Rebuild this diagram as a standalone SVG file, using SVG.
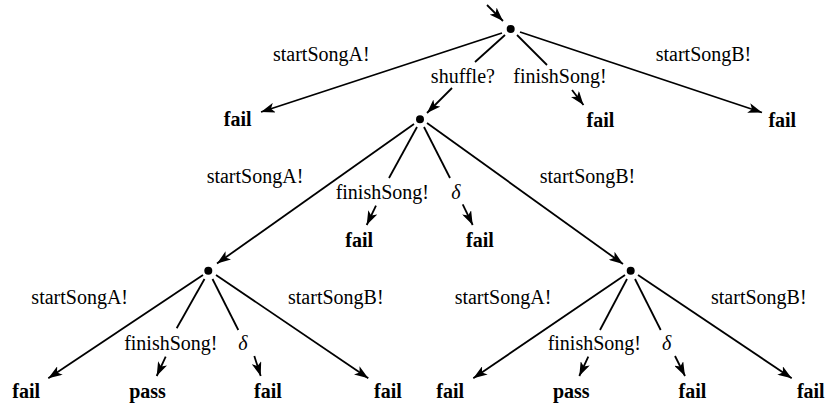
<svg xmlns="http://www.w3.org/2000/svg" width="828" height="407" viewBox="0 0 828 407" font-family="Liberation Serif, Times New Roman, DejaVu Serif, Noto Serif, serif">
  <style>
    .edge { stroke: #000; stroke-width: 1.8; fill: none; }
    .arr { marker-end: url(#head); }
    text { font-size: 20px; fill: #000; text-anchor: middle; }
    .delta { font-style: italic; }
    .verdict { font-weight: bold; }
    .state { fill: #000; }
  </style>
  <defs>
    <marker id="head" viewBox="0 0 14 10" refX="14" refY="5" markerWidth="14" markerHeight="10" markerUnits="userSpaceOnUse" orient="auto">
      <path d="M0,0 L14,5 L0,10 L3.5,5 Z" fill="#000"/>
    </marker>
  </defs>
  <rect width="828" height="407" fill="#fff"/>

  <!-- transitions -->
  <g id="connectors">
    <line class="edge arr" x1="487" y1="5" x2="503" y2="21"/>

    <!-- from s0 -->
    <line class="edge arr" x1="502" y1="33" x2="261" y2="112"/>
    <line class="edge" x1="505" y1="35" x2="475" y2="62"/>
    <line class="edge arr" x1="452" y1="88" x2="427" y2="113"/>
    <line class="edge" x1="517" y1="35" x2="547" y2="65"/>
    <line class="edge arr" x1="572" y1="90" x2="583.5" y2="105"/>
    <line class="edge arr" x1="520" y1="32" x2="762" y2="112.5"/>

    <!-- from s1 -->
    <line class="edge arr" x1="414" y1="124" x2="217" y2="263.5"/>
    <line class="edge" x1="417" y1="127" x2="389" y2="178"/>
    <line class="edge arr" x1="376" y1="205.7" x2="366.7" y2="225"/>
    <line class="edge" x1="424" y1="127" x2="450" y2="178"/>
    <line class="edge arr" x1="462.7" y1="204.3" x2="472.7" y2="225"/>
    <line class="edge arr" x1="427" y1="123" x2="623" y2="264"/>

    <!-- from s2 -->
    <line class="edge arr" x1="203" y1="275" x2="48.3" y2="378.3"/>
    <line class="edge" x1="204.5" y1="279" x2="176.7" y2="328.3"/>
    <line class="edge arr" x1="165.7" y1="356.7" x2="156.7" y2="376"/>
    <line class="edge" x1="212.5" y1="279" x2="238.3" y2="330"/>
    <line class="edge arr" x1="254.3" y1="356" x2="260.7" y2="376"/>
    <line class="edge arr" x1="216" y1="275" x2="368.3" y2="378.3"/>

    <!-- from s3 -->
    <line class="edge arr" x1="625" y1="275" x2="473.3" y2="378.3"/>
    <line class="edge" x1="627" y1="279" x2="600" y2="330"/>
    <line class="edge arr" x1="588.3" y1="356.7" x2="579.3" y2="376"/>
    <line class="edge" x1="635" y1="279" x2="660.7" y2="330"/>
    <line class="edge arr" x1="675" y1="356" x2="685" y2="376"/>
    <line class="edge arr" x1="638" y1="275" x2="791.7" y2="378.3"/>

    <!-- labels -->
    <text x="321.3" y="61">startSongA!</text>
    <text x="703.5" y="61">startSongB!</text>
    <text x="462.9" y="83">shuffle?</text>
    <text x="559.9" y="83">finishSong!</text>

    <text x="255" y="183.3">startSongA!</text>
    <text x="587.5" y="183.3">startSongB!</text>
    <text x="382.3" y="199.3">finishSong!</text>
    <text class="delta" x="455.8" y="199.3">δ</text>

    <text x="79.7" y="304.3">startSongA!</text>
    <text x="335.8" y="304.3">startSongB!</text>
    <text x="170.8" y="350">finishSong!</text>
    <text class="delta" x="243" y="350">δ</text>

    <text x="503" y="304.3">startSongA!</text>
    <text x="758.8" y="304.3">startSongB!</text>
    <text x="594.3" y="350">finishSong!</text>
    <text class="delta" x="666.7" y="350">δ</text>
  </g>

  <!-- states -->
  <g id="s0"><circle class="state" cx="510.7" cy="29" r="4"/></g>
  <g id="s1"><circle class="state" cx="420" cy="119.3" r="4"/></g>
  <g id="s2"><circle class="state" cx="208.3" cy="270.7" r="4"/></g>
  <g id="s3"><circle class="state" cx="630.7" cy="270.7" r="4"/></g>

  <!-- verdicts -->
  <g id="v1"><text class="verdict" x="237.7" y="126">fail</text></g>
  <g id="v2"><text class="verdict" x="600.5" y="126.5">fail</text></g>
  <g id="v3"><text class="verdict" x="782.3" y="126.5">fail</text></g>
  <g id="v4"><text class="verdict" x="359.2" y="247">fail</text></g>
  <g id="v5"><text class="verdict" x="480" y="247">fail</text></g>
  <g id="v6"><text class="verdict" x="26.2" y="398">fail</text></g>
  <g id="v7"><text class="verdict" x="147.5" y="398">pass</text></g>
  <g id="v8"><text class="verdict" x="268" y="398">fail</text></g>
  <g id="v9"><text class="verdict" x="388" y="398">fail</text></g>
  <g id="v10"><text class="verdict" x="450.2" y="398">fail</text></g>
  <g id="v11"><text class="verdict" x="571.3" y="398">pass</text></g>
  <g id="v12"><text class="verdict" x="692.5" y="398">fail</text></g>
  <g id="v13"><text class="verdict" x="810.8" y="398">fail</text></g>
</svg>
